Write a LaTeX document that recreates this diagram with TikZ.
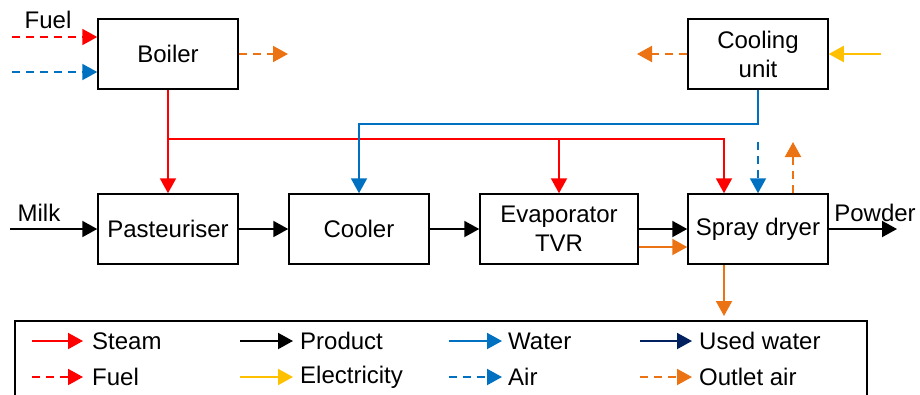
\documentclass[tikz,border=0pt]{standalone}
\usepackage{fontspec}
\setmainfont{Liberation Sans}
\usetikzlibrary{arrows.meta}
\definecolor{cred}{RGB}{255,0,0}
\definecolor{cblue}{RGB}{0,112,192}
\definecolor{corange}{RGB}{235,115,20}
\definecolor{cyellow}{RGB}{255,192,0}
\definecolor{cnavy}{RGB}{0,32,96}
\begin{document}
\begin{tikzpicture}[x=1pt,y=-1pt,
  font=\fontsize{24}{29}\selectfont,
  box/.style={draw,line width=1.5pt,minimum width=140pt,minimum height=70pt,align=center,inner sep=0pt},
  flow/.style={line width=2pt,-{Triangle[length=15pt,width=16pt]}},
  dsh/.style={dash pattern=on 8pt off 6pt},
  steam/.style={flow,cred},
  prod/.style={flow,black},
  water/.style={flow,cblue},
  used/.style={flow,cnavy},
  fuel/.style={flow,cred,dsh},
  elec/.style={flow,cyellow},
  air/.style={flow,cblue,dsh},
  outair/.style={flow,corange,dsh},
  outsolid/.style={flow,corange},
  lab/.style={anchor=west,inner sep=0pt}]
\useasboundingbox (0,0) rectangle (920,394);

% boxes
\node[box] (boiler) at (168,54) {Boiler};
\node[box] (cool) at (758,54) {Cooling\\unit};
\node[box] (past) at (168,229) {Pasteuriser};
\node[box] (cooler) at (359,229) {Cooler};
\node[box,minimum width=158pt] (evap) at (559,229) {Evaporator\\TVR};
\node[box] (dryer) at (758,229) {Spray dryer};

% free ends
\coordinate (fuelin) at (12,37);
\coordinate (airin) at (12,72);
\coordinate (boilout) at (288,54);
\coordinate (coolout) at (637,54);
\coordinate (elin) at (881,54);
\coordinate (milkin) at (10,229);
\coordinate (powder) at (897,229);
\coordinate (sj) at (168,139);
\coordinate (bj) at (758,124);
\coordinate (airtop) at (758,142);
\coordinate (outtop) at (793,142);
\coordinate (drybot) at (724,316);

% labels
\node[inner sep=0pt] (tfuel) at (48,20) {Fuel};
\node[inner sep=0pt] (tmilk) at (39,213) {Milk};
\node[inner sep=0pt] (tpowder) at (875,213) {Powder};

% boiler / cooling unit
\draw[fuel] (fuelin) -- (fuelin -| boiler.west);
\draw[air] (airin) -- (airin -| boiler.west);
\draw[outair] (boiler.east) -- (boilout);
\draw[outair] (cool.west) -- (coolout);
\draw[elec] (elin) -- (cool.east);

% steam
\draw[steam] (boiler.south) -- (past.north);
\draw[steam] (sj) -| (evap.north);
\draw[steam] (sj) -| ([xshift=-34pt]dryer.north);

% water
\draw[water] (cool.south) -- (bj) -| (cooler.north);

% air
\draw[air] (airtop) -- (dryer.north);
\draw[outair] ([xshift=35pt]dryer.north) -- (outtop);

% product
\draw[prod] (milkin) -- (past.west);
\draw[prod] (past.east) -- (cooler.west);
\draw[prod] (cooler.east) -- (evap.west);
\draw[prod] (evap.east) -- (dryer.west);
\draw[prod] (dryer.east) -- (powder);
\draw[outsolid] ([yshift=-18pt]evap.east) -- ([yshift=-18pt]dryer.west);
\draw[outsolid] ([xshift=-34pt]dryer.south) -- (drybot);

% legend
\draw[line width=1.5pt] (15,400) -- (15,321) -- (867,321) -- (867,400);
\node[lab] (lsteam) at (92,341) {Steam};
\node[lab] (lprod) at (300,341) {Product};
\node[lab] (lwater) at (508,341) {Water};
\node[lab] (lused) at (699,341) {Used water};
\node[lab] (lfuel) at (92,377) {Fuel};
\node[lab] (lelec) at (300,377) {Electricity};
\node[lab] (lair) at (508,377) {Air};
\node[lab] (lout) at (699,377) {Outlet air};
\draw[steam] ([xshift=-60pt]lsteam.west) -- ([xshift=-9pt]lsteam.west);
\draw[prod] ([xshift=-60pt]lprod.west) -- ([xshift=-7pt]lprod.west);
\draw[water] ([xshift=-59pt]lwater.west) -- ([xshift=-6pt]lwater.west);
\draw[used] ([xshift=-59pt]lused.west) -- ([xshift=-7pt]lused.west);
\draw[fuel] ([xshift=-60pt]lfuel.west) -- ([xshift=-9pt]lfuel.west);
\draw[elec] ([xshift=-60pt]lelec.west) -- ([xshift=-7pt]lelec.west);
\draw[air] ([xshift=-59pt]lair.west) -- ([xshift=-6pt]lair.west);
\draw[outair] ([xshift=-59pt]lout.west) -- ([xshift=-7pt]lout.west);
\end{tikzpicture}
\end{document}
